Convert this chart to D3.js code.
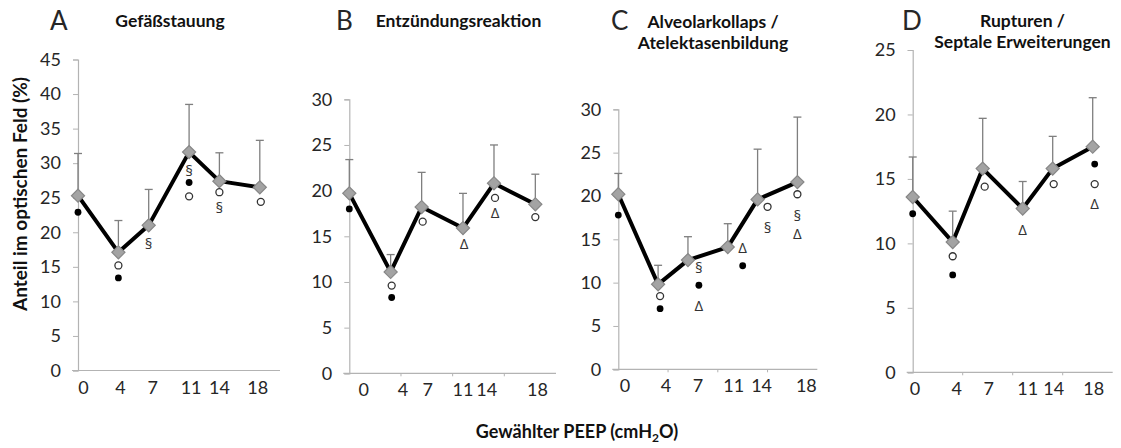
<!DOCTYPE html>
<html>
<head>
<meta charset="utf-8">
<script src="https://cdn.jsdelivr.net/npm/d3@7"></script>
<style>
  html, body { margin: 0; padding: 0; background: #fff; }
  svg { display: block; font-family: Lato, "Open Sans", sans-serif; }
</style>
</head>
<body>
<svg id="chart" width="1121" height="448"></svg>
<script>
// PEEP levels and the labels printed under each panel
const peep = [0, 4, 7, 11, 14, 18];
const peepLabels = ["0", "4", "7", "11", "14", "18"];

// means (%) and upper SD per panel
const meanA = [25.3, 17.1, 21.0, 31.6, 27.4, 26.5];
const sdA = [6.1, 4.6, 5.2, 6.9, 4.1, 6.8];
const meanB = [19.7, 11.1, 18.2, 15.9, 20.8, 18.5];
const sdB = [3.7, 1.9, 3.8, 3.8, 4.2, 3.3];
const meanC = [20.2, 9.8, 12.6, 14.1, 19.6, 21.6];
const sdC = [2.4, 2.2, 2.7, 2.7, 5.8, 7.5];
const meanD = [13.6, 10.1, 15.8, 12.7, 15.8, 17.5];
const sdD = [3.1, 2.4, 3.9, 2.1, 2.5, 3.8];

// significance marks: [PEEP position, value, kind]
const sigA = [
  [0, 22.9, "dot"], [4, 15.2, "open"], [4, 13.4, "dot"], [7, 18.4, "§"],
  [11, 29.0, "§"], [11, 27.2, "dot"], [11, 25.2, "open"],
  [14, 25.8, "open"], [14, 23.6, "§"], [18.1, 24.4, "open"]
];
const sigB = [
  [0, 18.0, "dot"], [4.1, 9.6, "open"], [4.1, 8.3, "dot"], [7.1, 16.6, "open"],
  [11.1, 14.3, "Δ"], [14.1, 19.2, "open"], [14.1, 17.7, "Δ"], [18, 17.1, "open"]
];
const sigC = [
  [0, 17.8, "dot"], [4.2, 8.45, "open"], [4.2, 7.0, "dot"],
  [8.1, 11.8, "§"], [8.1, 9.7, "dot"], [8.1, 7.4, "Δ"],
  [12.5, 14.15, "Δ"], [12.5, 11.95, "dot"],
  [15.0, 18.75, "open"], [15.0, 16.4, "§"],
  [18, 20.2, "open"], [18, 17.8, "§"], [18, 15.7, "Δ"]
];
const sigD = [
  [0, 12.3, "dot"], [4, 9.0, "open"], [4, 7.55, "dot"], [7.2, 14.4, "open"],
  [11, 11.1, "Δ"], [14.1, 14.6, "open"],
  [18.2, 16.15, "dot"], [18.2, 14.6, "open"], [18.2, 13.1, "Δ"]
];

// where the category labels sit (PEEP units)
const labelPosA = [0.55, 4.2, 7.4, 11.2, 14.0, 17.8];
const labelPosB = [1.4, 5.2, 7.6, 11.0, 13.3, 18.2];
const labelPosC = [0.67, 4.8, 8.0, 11.6, 14.4, 18.9];
const labelPosD = [0.23, 4.4, 7.6, 11.5, 14.1, 18.1];

const yMaxA = 45, yMaxB = 30, yMaxC = 30, yMaxD = 25;

const panels = [
  { letter: "A", title: ["Gefäßstauung"], mean: meanA, sd: sdA, sig: sigA, lab: labelPosA, yMax: yMaxA,
    x0: 78, x1: 280, y0: 370.5, y1: 59.5, minor: false,
    letterX: 50, titleX: 170, titleY: 27 },
  { letter: "B", title: ["Entzündungsreaktion"], mean: meanB, sd: sdB, sig: sigB, lab: labelPosB, yMax: yMaxB,
    x0: 349.3, x1: 556, y0: 373.3, y1: 99.3, minor: true,
    letterX: 336, titleX: 458.5, titleY: 27 },
  { letter: "C", title: ["Alveolarkollaps /", "Atelektasenbildung"], mean: meanC, sd: sdC, sig: sigC, lab: labelPosC, yMax: yMaxC,
    x0: 618.3, x1: 817.3, y0: 369.3, y1: 109.3, minor: true,
    letterX: 611, titleX: 713, titleY: 28 },
  { letter: "D", title: ["Rupturen /", "Septale Erweiterungen"], mean: meanD, sd: sdD, sig: sigD, lab: labelPosD, yMax: yMaxD,
    x0: 912.7, x1: 1112.7, y0: 372.3, y1: 50, minor: true,
    letterX: 902, titleX: 1022.5, titleY: 27 }
];

const AXIS = "#b3b3b3", BAR = "#7f7f7f", INK = "#262626";
const svg = d3.select("#chart");

panels.forEach(p => {
  const x = d3.scaleLinear().domain([0, 20]).range([p.x0, p.x1]);
  const y = d3.scaleLinear().domain([0, p.yMax]).range([p.y0, p.y1]);
  const g = svg.append("g");

  // x axis: plain line, hidden numeric ticks, minor marks every 5
  g.append("line")
    .attr("x1", p.x0 - 6).attr("x2", p.x1)
    .attr("y1", p.y0).attr("y2", p.y0)
    .attr("stroke", AXIS).attr("stroke-width", 1.2);
  if (p.minor) {
    g.selectAll("line.minor").data([5, 10, 15]).join("line").attr("class", "minor")
      .attr("x1", d => x(d)).attr("x2", d => x(d))
      .attr("y1", p.y0).attr("y2", p.y0 + 3)
      .attr("stroke", AXIS);
  }
  g.selectAll("text.xl").data(peepLabels).join("text").attr("class", "xl")
    .attr("x", (d, i) => x(p.lab[i])).attr("y", p.y0 + 23)
    .attr("text-anchor", "middle").attr("font-size", 18).attr("fill", INK)
    .text(d => d);

  // y axis
  const gy = g.append("g").attr("transform", `translate(${p.x0},0)`)
    .call(d3.axisLeft(y).tickValues(d3.range(0, p.yMax + 1, 5)).tickSize(5).tickPadding(12));
  gy.selectAll(".domain").attr("stroke", AXIS).attr("stroke-width", 1.2);
  gy.selectAll(".tick line").attr("stroke", AXIS);
  gy.selectAll(".tick text").attr("font-size", 18).attr("fill", INK)
    .attr("font-family", "Lato, sans-serif");

  // panel letter + title
  g.append("text").attr("x", p.letterX).attr("y", 30)
    .attr("font-size", 26).attr("fill", INK).text(p.letter);
  g.selectAll("text.title").data(p.title).join("text").attr("class", "title")
    .attr("x", p.titleX).attr("y", (d, i) => p.titleY + i * 21)
    .attr("text-anchor", "middle").attr("font-size", 17.5).attr("font-weight", 700)
    .attr("fill", "#111").text(d => d);

  // upper error bars
  const eb = g.selectAll("g.eb").data(peep).join("g").attr("class", "eb");
  eb.append("line")
    .attr("x1", d => x(d)).attr("x2", d => x(d))
    .attr("y1", (d, i) => y(p.mean[i])).attr("y2", (d, i) => y(p.mean[i] + p.sd[i]))
    .attr("stroke", BAR).attr("stroke-width", 1.3);
  eb.append("line")
    .attr("x1", d => x(d) - 4).attr("x2", d => x(d) + 4)
    .attr("y1", (d, i) => y(p.mean[i] + p.sd[i])).attr("y2", (d, i) => y(p.mean[i] + p.sd[i]))
    .attr("stroke", BAR).attr("stroke-width", 1.3);

  // mean line and diamonds
  g.append("path")
    .attr("d", d3.line().x((d, i) => x(peep[i])).y(d => y(d))(p.mean))
    .attr("fill", "none").attr("stroke", "#000").attr("stroke-width", 4)
    .attr("stroke-linejoin", "round");
  g.selectAll("path.dia").data(peep).join("path").attr("class", "dia")
    .attr("d", d3.symbol(d3.symbolSquare, 86))
    .attr("transform", (d, i) => `translate(${x(d)},${y(p.mean[i])}) rotate(45)`)
    .attr("fill", "#a3a3a3").attr("stroke", "#878787").attr("stroke-width", 1.2);

  // significance marks
  p.sig.forEach(([sx, sv, kind]) => {
    if (kind === "dot" || kind === "open") {
      g.append("circle").attr("cx", x(sx)).attr("cy", y(sv)).attr("r", kind === "dot" ? 3.4 : 3.5)
        .attr("fill", kind === "dot" ? "#000" : "#fff")
        .attr("stroke", kind === "dot" ? "none" : "#333").attr("stroke-width", 1.3);
    } else {
      g.append("text").attr("x", x(sx)).attr("y", y(sv))
        .attr("text-anchor", "middle").attr("dominant-baseline", "central")
        .attr("font-family", "'Open Sans', sans-serif")
        .attr("font-size", 15).attr("fill", "#333").text(kind);
    }
  });
});

// shared axis titles
svg.append("text")
  .attr("transform", "translate(27,194) rotate(-90)")
  .attr("text-anchor", "middle").attr("font-size", 19).attr("font-weight", 700)
  .attr("fill", "#111").text("Anteil im optischen Feld (%)");

const xt = svg.append("text").attr("x", 577).attr("y", 438)
  .attr("text-anchor", "middle").attr("font-size", 18).attr("font-weight", 700).attr("fill", "#111");
xt.append("tspan").text("Gewählter PEEP (cmH");
xt.append("tspan").attr("font-size", 12).attr("dy", 4).text("2");
xt.append("tspan").attr("dy", -4).text("O)");
</script>
</body>
</html>
